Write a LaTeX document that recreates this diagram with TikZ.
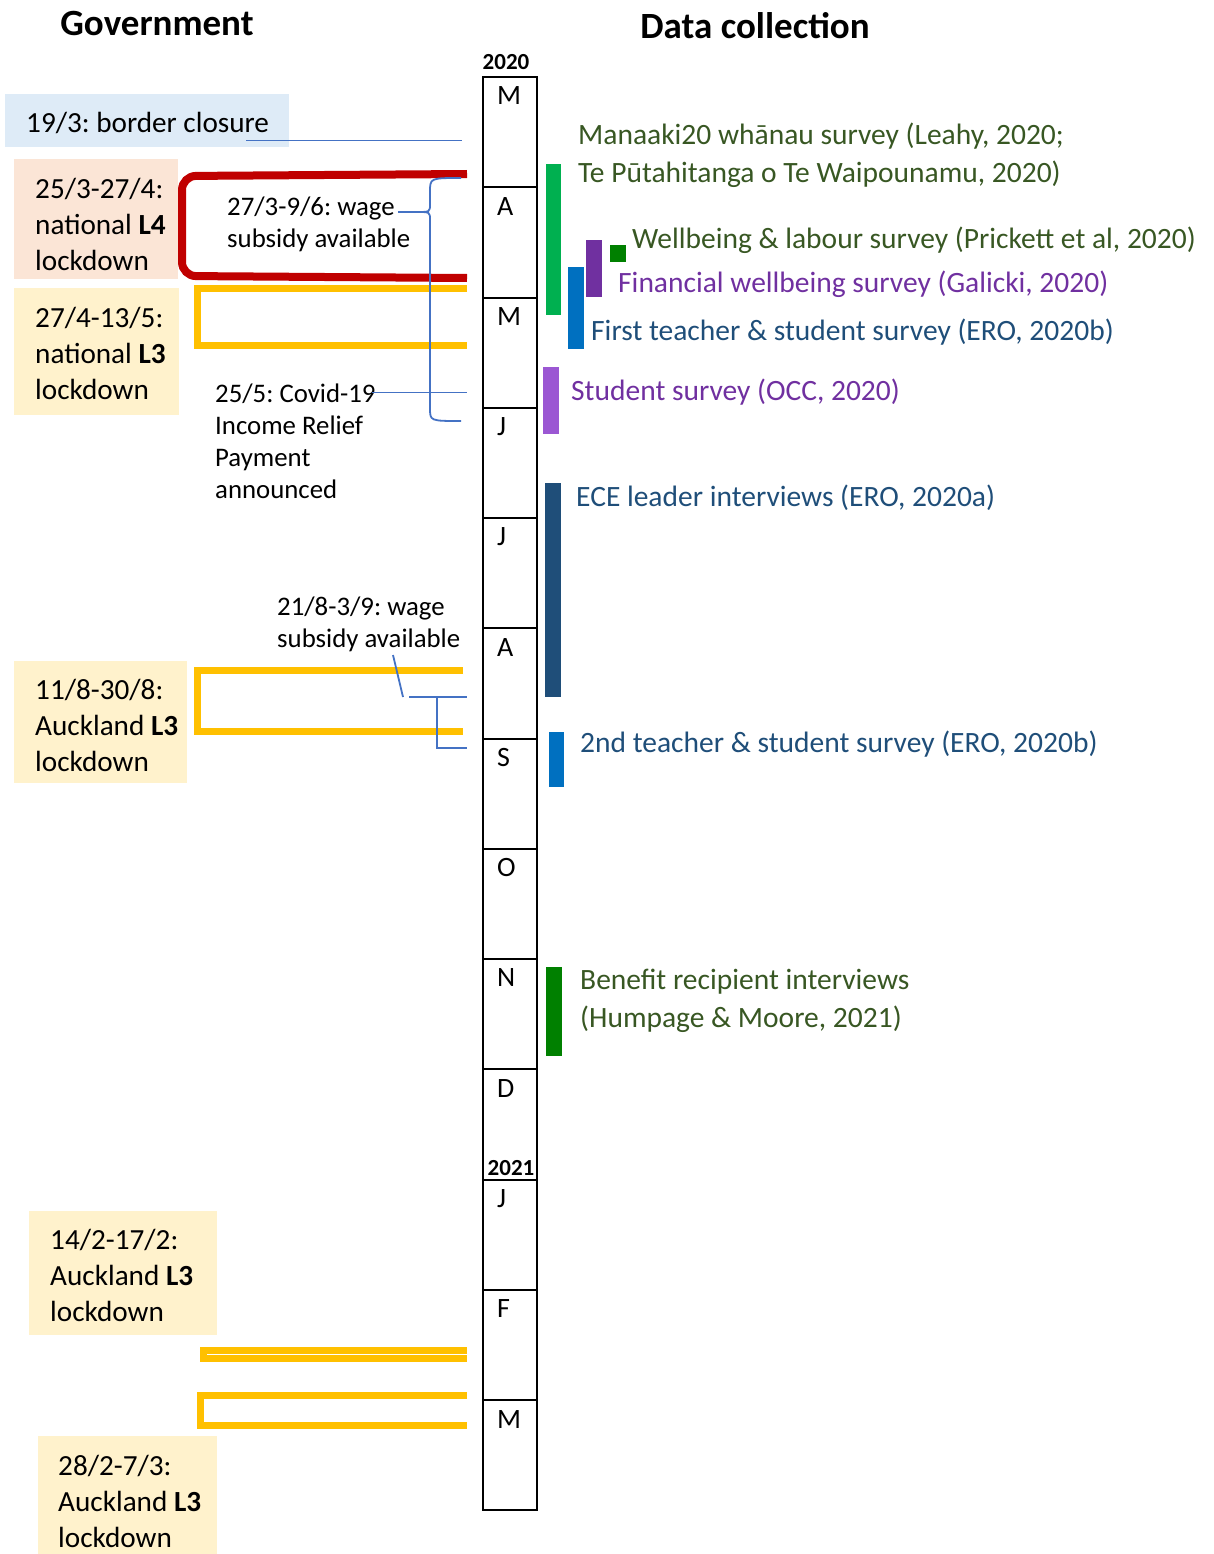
\documentclass[tikz,border=0pt]{standalone}
\usepackage{fontspec}
\setmainfont{Carlito}
\frenchspacing
\definecolor{boxblue}{HTML}{DEEBF7}
\definecolor{boxsalmon}{HTML}{FBE5D6}
\definecolor{boxyellow}{HTML}{FFF2CC}
\definecolor{lvred}{HTML}{C00000}
\definecolor{lvyellow}{HTML}{FFC000}
\definecolor{linkblue}{HTML}{4472C4}
\definecolor{srcgreen}{HTML}{385723}
\definecolor{srcpurple}{HTML}{7030A0}
\definecolor{srcnavy}{HTML}{1F4E79}
\definecolor{barlime}{HTML}{00B050}
\definecolor{barblue}{HTML}{0070C0}
\definecolor{bargreen}{HTML}{008000}
\definecolor{barlilac}{HTML}{9B57D3}
\begin{document}
\begin{tikzpicture}[x=1pt,y=-1pt,
    every node/.style={inner sep=0pt, font=\fontsize{29.2}{36}\selectfont},
    head/.style={font=\bfseries\fontsize{37}{40}\selectfont},
    yr/.style={font=\bfseries\fontsize{23}{23}\selectfont},
    month/.style={anchor=west, font=\fontsize{28}{36}\selectfont},
    lbl/.style={anchor=north west, align=left},
    note/.style={anchor=north west, align=left, font=\fontsize{26.8}{32}\selectfont},
    src/.style={anchor=base west, font=\fontsize{29.5}{38}\selectfont},
    srcm/.style={anchor=north west, align=left, font=\fontsize{29.5}{38}\selectfont},
    lvfour/.style={draw=lvred, line width=8pt, rounded corners=14pt},
    lvthree/.style={draw=lvyellow, line width=7pt},
    link/.style={draw=linkblue, line width=1.8pt},
    thinlink/.style={draw=linkblue, line width=1pt}
]
    \useasboundingbox (0,0) rectangle (1214,1554);

    \node[head] (gov) at (157,24) {Government};
    \node[head] (data) at (755,26) {Data collection};

    % timeline
    \foreach \m [count=\i from 0] in {M,A,M,J,J,A,S,O,N,D,J,F,M} {
        \draw[line width=2pt] (483,{77+\i*110.25}) rectangle (537,{77+(\i+1)*110.25});
        \node[month] (m\i) at (497,{96+\i*110.25}) {\m};
    }
    \node[yr] (yA) at (506,62) {2020};
    \node[yr] (yB) at (511,1168) {2021};

    % government
    \fill[boxblue] (5,94) rectangle (289,147);
    \node[anchor=base west] (border) at (26,133) {19/3: border closure};
    \fill[boxsalmon] (14,159) rectangle (178,279);
    \node[lbl] (lfour) at (35,178.5) {25/3-27/4:\\national \textbf{L4}\\lockdown};
    \fill[boxyellow] (14,288) rectangle (179,415);
    \node[lbl] (lthree) at (35,307.5) {27/4-13/5:\\national \textbf{L3}\\lockdown};
    \fill[boxyellow] (14,661) rectangle (187,783);
    \node[lbl] (akla) at (35,679.5) {11/8-30/8:\\Auckland \textbf{L3}\\lockdown};
    \fill[boxyellow] (29,1211) rectangle (217,1335);
    \node[lbl] (aklb) at (50,1229.5) {14/2-17/2:\\Auckland \textbf{L3}\\lockdown};
    \fill[boxyellow] (38,1436) rectangle (217,1554);
    \node[lbl] (aklc) at (58,1455.5) {28/2-7/3:\\Auckland \textbf{L3}\\lockdown};

    % lockdown brackets
    \draw[lvfour] (467,174) -- (182,176) -- (182,276) -- (467,278);
    \draw[lvthree] (467,288) -- (197,288) -- (197,345) -- (467,345);
    \draw[lvthree] (463,670) -- (197,670) -- (197,731) -- (463,731);
    \draw[lvthree] (467,1350) -- (203,1350) -- (203,1358) -- (467,1358);
    \draw[lvthree] (467,1395) -- (200,1395) -- (200,1425) -- (467,1425);

    \node[note] (wagea) at (227,196.5) {27/3-9/6: wage\\subsidy available};
    \node[note] (relief) at (215,383.5) {25/5: Covid-19\\Income Relief\\Payment\\announced};
    \node[note] (wageb) at (277,596.5) {21/8-3/9: wage\\subsidy available};

    % links to the timeline
    \coordinate (borderend) at (246,141);
    \coordinate (mar19) at (462,141);
    \draw[thinlink] (borderend) -- (mar19);

    \coordinate (wageaend) at (398,212);
    \coordinate (bracetip) at (417,212);
    \coordinate (mar27) at (461,178);
    \coordinate (jun9) at (461,421);
    \draw[link] (wageaend) -- (bracetip);
    \draw[link] (mar27) .. controls (430,178) .. (430,192) -- (430,204)
        .. controls (430,212) .. (bracetip) .. controls (430,212) .. (430,220)
        -- (430,408) .. controls (430,421) .. (jun9);

    \coordinate (reliefend) at (372,392);
    \coordinate (may25) at (467,392);
    \draw[thinlink] (reliefend) -- (may25);

    \coordinate (wagebend) at (393,655);
    \coordinate (wagebfoot) at (403,697);
    \coordinate (aug21) at (467,697);
    \coordinate (sep3) at (467,748);
    \draw[link] (wagebend) -- (wagebfoot);
    \draw[link] (409,697) -- (aug21);
    \draw[link] (437,697) -- (437,748) -- (sep3);

    % data collection
    \fill[barlime] (546,164) rectangle (561,315);
    \node[srcm, text=srcgreen] (manaaki) at (578,122.5) {Manaaki20 whānau survey (Leahy, 2020;\\Te Pūtahitanga o Te Waipounamu, 2020)};
    \fill[bargreen] (610,245) rectangle (626,262);
    \node[src, text=srcgreen] (labour) at (632,249) {Wellbeing \& labour survey (Prickett et al, 2020)};
    \fill[srcpurple] (586,240) rectangle (602,297);
    \node[src, text=srcpurple] (finance) at (618,292) {Financial wellbeing survey (Galicki, 2020)};
    \fill[barblue] (568,267) rectangle (584,349);
    \node[src, text=srcnavy] (teacha) at (591,340) {First teacher \& student survey (ERO, 2020b)};
    \fill[barlilac] (543,367) rectangle (559,434);
    \node[src, text=srcpurple] (student) at (571,400) {Student survey (OCC, 2020)};
    \fill[srcnavy] (545,483) rectangle (561,697);
    \node[src, text=srcnavy] (ece) at (576,506) {ECE leader interviews (ERO, 2020a)};
    \fill[barblue] (549,732) rectangle (564,787);
    \node[src, text=srcnavy] (teachb) at (580,752) {2nd teacher \& student survey (ERO, 2020b)};
    \fill[bargreen] (546,967) rectangle (562,1056);
    \node[srcm, text=srcgreen] (benefit) at (580,968.5) {Benefit recipient interviews\\(Humpage \& Moore, 2021)};
\end{tikzpicture}
\end{document}
